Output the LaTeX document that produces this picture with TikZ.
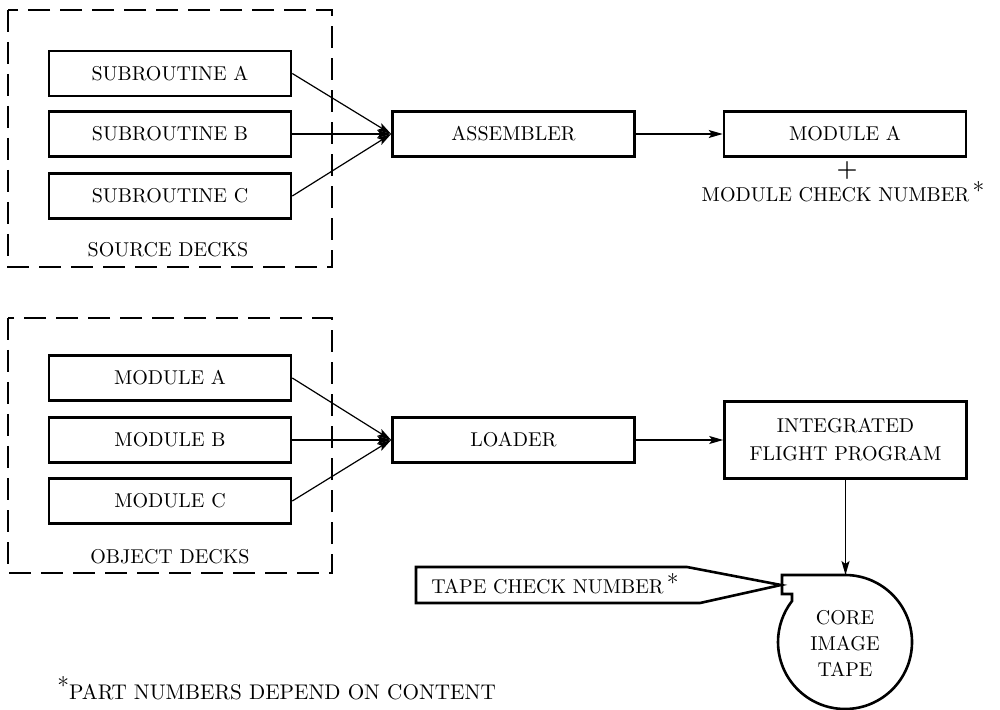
\documentclass[tikz,border=0pt]{standalone}
\usetikzlibrary{arrows.meta}
\newcommand\fnstar{\raisebox{0.25ex}{\large *}}
\begin{document}
\begin{tikzpicture}[x=0.5pt,y=-0.5pt,
  box/.style={draw,line width=1.3pt,minimum width=121pt,minimum height=22.5pt,inner sep=0pt,font=\normalsize},
  deck/.style={draw,line width=1.2pt,dash pattern=on 11pt off 5pt},
  conn/.style={line width=0.6pt,-{Stealth[length=7pt,width=4pt,inset=1.5pt]}},
  lbl/.style={inner sep=0pt,font=\normalsize}]
\useasboundingbox (0,0) rectangle (1000,710);

% source decks
\draw[deck] (8,10) rectangle (332,267);
\node[box] (sa) at (170,73.5) {SUBROUTINE A};
\node[box] (sb) at (170,134) {SUBROUTINE B};
\node[box] (sc) at (170,196) {SUBROUTINE C};
\node[lbl] (src) at (168,250) {SOURCE DECKS};

\node[box] (asm) at (513.5,134) {ASSEMBLER};
\node[box] (moda) at (845,134) {MODULE A};
\node[lbl,font=\large\bfseries] (plus) at (847,171) {+};
\node[lbl] (mcn) at (843,192) {MODULE CHECK NUMBER\,\fnstar};

\draw[conn] (sa.east) -- (asm.west);
\draw[conn] (sb.east) -- (asm.west);
\draw[conn] (sc.east) -- (asm.west);
\draw[conn] (asm.east) -- (moda.west);

% object decks
\draw[deck] (8,318) rectangle (332,573);
\node[box] (ma) at (170,378) {MODULE A};
\node[box] (mb) at (170,440) {MODULE B};
\node[box] (mc) at (170,501) {MODULE C};
\node[lbl] (obj) at (170,557) {OBJECT DECKS};

\node[box] (ldr) at (513.5,440) {LOADER};
\node[box,minimum height=38.5pt,align=center] (ifp) at (845.5,440) {INTEGRATED\\[2pt]FLIGHT PROGRAM};

\draw[conn] (ma.east) -- (ldr.west);
\draw[conn] (mb.east) -- (ldr.west);
\draw[conn] (mc.east) -- (ldr.west);
\draw[conn] (ldr.east) -- (ifp.west);

% tape
\coordinate (tapetop) at (845.5,575);
\draw[line width=1.3pt] (782,575) -- (845,575) arc[start angle=90,end angle=-217.7,radius=33.5pt] -- (792,594) -- (782,594) -- cycle;
\node[lbl,align=center] (tape) at (845,643) {CORE\\[1pt]IMAGE\\[1pt]TAPE};
\draw[conn] (ifp.south) -- (tapetop);

% tape check number callout
\coordinate (tip) at (781,585);
\draw[line width=1.3pt] (416,567) -- (687,567) -- (tip) -- (700,603) -- (416,603) -- cycle;
\node[lbl,anchor=west] (tcn) at (431,584) {TAPE CHECK NUMBER\,\fnstar};

% footnote
\node[lbl,anchor=west,font=\fontsize{10.6}{12}\selectfont] (fn) at (57,688) {\raisebox{0.6ex}{\large *}PART NUMBERS DEPEND ON CONTENT};
\end{tikzpicture}
\end{document}
